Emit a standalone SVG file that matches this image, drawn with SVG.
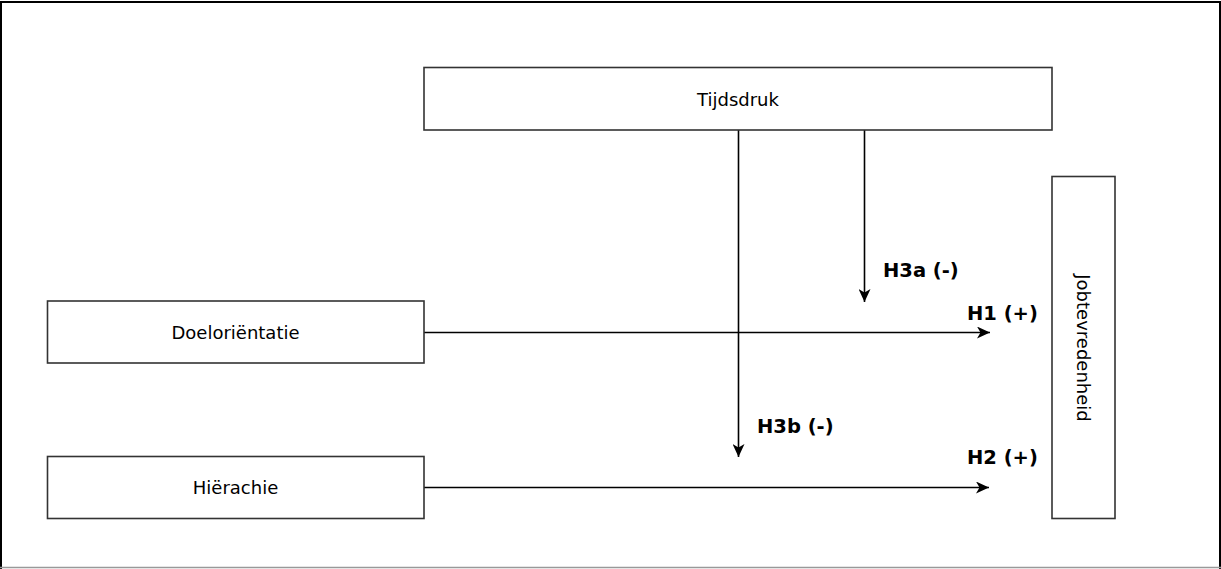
<svg xmlns="http://www.w3.org/2000/svg" width="1221" height="569" viewBox="0 0 1221 569">
<style>
.box{fill:#fff;stroke:#333;stroke-width:1.6}
.t{font-family:"DejaVu Sans",Verdana,sans-serif;font-size:18px;fill:#000;text-anchor:middle}
.lbl{font-family:"DejaVu Sans",Verdana,sans-serif;font-size:19.5px;font-weight:bold;fill:#000}
.c{stroke:#000;stroke-width:1.6;fill:none;marker-end:url(#arr)}
</style>
<defs>
<marker id="arr" markerWidth="14" markerHeight="12" refX="13" refY="6" orient="auto" markerUnits="userSpaceOnUse">
<path d="M0,0 L13,6 L0,12 L3.5,6 Z" fill="#000"/>
</marker>
</defs>
<rect width="1221" height="569" fill="#fff"/>
<g id="frame">
<line x1="0" y1="2" x2="1221" y2="2" stroke="#000" stroke-width="2"/>
<line x1="1" y1="2" x2="1" y2="569" stroke="#000" stroke-width="2"/>
<line x1="1220" y1="2" x2="1220" y2="569" stroke="#000" stroke-width="2"/>
<line x1="0" y1="567.5" x2="1221" y2="567.5" stroke="#999" stroke-width="1.5"/>
</g>
<g id="connectors">
<line class="c" x1="424" y1="332.5" x2="990" y2="332.5"/>
<line class="c" x1="424" y1="487.5" x2="989" y2="487.5"/>
<line class="c" x1="738.5" y1="130" x2="738.5" y2="457"/>
<line class="c" x1="864.5" y1="130" x2="864.5" y2="302"/>
</g>
<g id="labels">
<text class="lbl" x="883" y="277">H3a (-)</text>
<text class="lbl" x="967" y="320">H1 (+)</text>
<text class="lbl" x="757" y="433">H3b (-)</text>
<text class="lbl" x="967" y="464">H2 (+)</text>
</g>
<g id="tijdsdruk">
<rect class="box" x="424" y="67.5" width="628" height="62.5"/>
<text class="t" x="738" y="106">Tijdsdruk</text>
</g>
<g id="doelorientatie">
<rect class="box" x="47.5" y="301" width="376.5" height="62"/>
<text class="t" x="235.5" y="339">Doeloriëntatie</text>
</g>
<g id="hierachie">
<rect class="box" x="47.5" y="456.5" width="376.5" height="62"/>
<text class="t" x="235.5" y="494">Hiërachie</text>
</g>
<g id="jobtevredenheid">
<rect class="box" x="1052" y="176.5" width="63" height="342"/>
<text class="t" transform="translate(1077,348) rotate(90)" x="0" y="0">Jobtevredenheid</text>
</g>
</svg>
